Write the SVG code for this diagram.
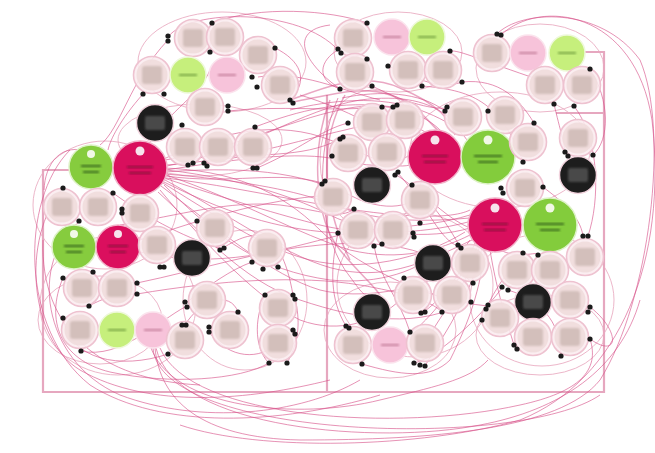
<svg xmlns="http://www.w3.org/2000/svg" xmlns:xlink="http://www.w3.org/1999/xlink" width="655" height="453" viewBox="0 0 655 453">
  <style>
    .frame { fill: none; stroke: #e6a7bf; stroke-width: 2.2; }
    .ring { fill: none; stroke: #e9a9c0; stroke-width: 1; opacity: 0.85; }
    .c { fill: none; stroke: #d64f88; stroke-width: 1; opacity: 0.62; }
    .ct { fill: none; stroke: #d64f88; stroke-width: 1.5; opacity: 0.5; }
    .d { fill: #1b1b1b; }
  </style>
  <defs>
    <filter id="soft" x="-20%" y="-20%" width="140%" height="140%">
      <feGaussianBlur stdDeviation="0.9"/>
    </filter>
    <!-- pale grey-pink node with a blurred text block -->
    <symbol id="pale" overflow="visible">
      <circle r="18.5" fill="#fbecef" fill-opacity="0.88" stroke="#eec2d0" stroke-width="1.6"/>
      <circle r="15.5" fill="#f0dcdc" fill-opacity="0.9"/>
      <rect x="-10" y="-9" width="20" height="18" rx="3" fill="#d3bfbb" filter="url(#soft)"/>
    </symbol>
    <symbol id="black" overflow="visible">
      <circle r="18.5" fill="#1d1d1d" stroke="#f2d4de" stroke-width="1.5"/>
      <rect x="-10" y="-7" width="20" height="14" rx="2" fill="#4a4a4a" filter="url(#soft)"/>
    </symbol>
    <symbol id="lgreen" overflow="visible">
      <circle r="18" fill="#c6ef7c" stroke="#eef8da" stroke-width="1.5"/>
      <rect x="-9" y="-1" width="18" height="2" fill="#7aa845" filter="url(#soft)"/>
    </symbol>
    <symbol id="lpink" overflow="visible">
      <circle r="18" fill="#f7c3da" stroke="#fbe3ed" stroke-width="1.5"/>
      <rect x="-9" y="-1" width="18" height="2" fill="#c7829f" filter="url(#soft)"/>
    </symbol>
    <symbol id="magL" overflow="visible">
      <circle r="27" fill="#d90f5d" stroke="#f2b2c9" stroke-width="1.5"/>
      <circle cy="-17" r="4.5" fill="#f6e4ec"/>
      <rect x="-13" y="-2" width="26" height="2" fill="#8f0a3c" filter="url(#soft)"/>
      <rect x="-11" y="4" width="22" height="2" fill="#8f0a3c" filter="url(#soft)"/>
    </symbol>
    <symbol id="grnL" overflow="visible">
      <circle r="27" fill="#83cc3c" stroke="#def2c8" stroke-width="1.5"/>
      <circle cy="-17" r="4.5" fill="#f1f8e6"/>
      <rect x="-14" y="-2" width="28" height="2" fill="#3e6d1c" filter="url(#soft)"/>
      <rect x="-10" y="4" width="20" height="2" fill="#3e6d1c" filter="url(#soft)"/>
    </symbol>
    <symbol id="magM" overflow="visible">
      <circle r="22" fill="#db0f5e" stroke="#f2b2c9" stroke-width="1.5"/>
      <circle cy="-13" r="4" fill="#f6e4ec"/>
      <rect x="-10" y="-2" width="20" height="2" fill="#8f0a3c" filter="url(#soft)"/>
      <rect x="-8" y="4" width="16" height="2" fill="#8f0a3c" filter="url(#soft)"/>
    </symbol>
    <symbol id="grnM" overflow="visible">
      <circle r="22" fill="#86cc3e" stroke="#def2c8" stroke-width="1.5"/>
      <circle cy="-13" r="4" fill="#f1f8e6"/>
      <rect x="-10" y="-2" width="20" height="2" fill="#3e6d1c" filter="url(#soft)"/>
      <rect x="-8" y="4" width="16" height="2" fill="#3e6d1c" filter="url(#soft)"/>
    </symbol>
  </defs>

  <rect width="655" height="453" fill="#ffffff"/>

  <!-- area frames -->
  <g id="frames">
    <path class="frame" d="M70,170 H43 V392 H327 V95"/>
    <path class="frame" d="M327,392 H604 V52 H585"/>
    <path class="frame" d="M556,113 H604"/>
  </g>

  <!-- cluster outlines -->
  <g id="clusters">
    <ellipse class="ring" cx="222" cy="62" rx="84" ry="50"/>
    <ellipse class="ring" cx="200" cy="140" rx="82" ry="36"/>
    <ellipse class="ring" cx="105" cy="205" rx="72" ry="64"/>
    <ellipse class="ring" cx="118" cy="305" rx="78" ry="70"/>
    <ellipse class="ring" cx="245" cy="300" rx="62" ry="70"/>
    <ellipse class="ring" cx="398" cy="52" rx="64" ry="40"/>
    <ellipse class="ring" cx="540" cy="68" rx="64" ry="44"/>
    <ellipse class="ring" cx="372" cy="160" rx="52" ry="70"/>
    <ellipse class="ring" cx="500" cy="150" rx="90" ry="58"/>
    <ellipse class="ring" cx="415" cy="285" rx="78" ry="72"/>
    <ellipse class="ring" cx="390" cy="330" rx="66" ry="48"/>
    <ellipse class="ring" cx="542" cy="300" rx="72" ry="66"/>
    <ellipse class="ring" cx="540" cy="335" rx="64" ry="40"/>
    <ellipse class="ring" cx="100" cy="320" rx="62" ry="44"/>
  </g>

  <!-- connectors -->
  <g id="connectors">
    <!-- bundle leaving the large magenta node on the left -->
    <path class="c" d="M165,160 C230,150 290,120 340,110 C380,100 420,110 440,130"/>
    <path class="c" d="M166,165 C240,160 300,140 345,130 C390,118 415,125 425,132"/>
    <path class="c" d="M167,170 C250,180 300,200 330,215 C370,235 430,240 470,228"/>
    <path class="c" d="M166,175 C240,200 300,235 350,250 C400,262 440,250 470,235"/>
    <path class="c" d="M165,180 C230,215 290,260 340,270 C390,280 430,260 472,240"/>
    <path class="c" d="M164,185 C220,240 260,270 330,280 C380,285 420,270 440,250"/>
    <path class="c" d="M160,190 C210,250 260,300 300,320 C340,335 380,320 400,300"/>
    <path class="c" d="M162,160 C220,130 280,120 330,140 C370,155 390,170 410,165"/>
    <path class="c" d="M165,172 C260,165 310,175 360,200 C400,215 420,200 430,185"/>
    <path class="c" d="M166,178 C260,190 330,210 400,215 C440,218 460,215 470,210"/>
    <path class="c" d="M158,192 C200,230 240,280 300,300 C360,320 420,330 470,300"/>
    <path class="c" d="M163,168 C230,170 280,190 320,230 C350,260 420,300 488,306"/>
    <path class="c" d="M166,176 C230,185 280,170 322,183"/>
    <path class="c" d="M164,182 C240,220 290,230 338,233"/>
    <path class="c" d="M166,170 C230,160 300,150 340,160 C380,170 400,165 415,150"/>
    <path class="c" d="M165,174 C240,180 290,190 320,200 C360,215 390,225 470,218"/>
    <path class="c" d="M164,178 C230,200 280,215 320,225 C360,235 420,235 468,222"/>
    <path class="c" d="M163,183 C230,225 270,250 310,260 C360,272 420,260 465,232"/>
    <path class="c" d="M161,186 C220,230 270,275 320,290 C360,300 420,290 450,270"/>
    <path class="c" d="M167,166 C250,150 300,110 360,100 C400,95 430,100 452,120"/>
    <path class="c" d="M140,240 C200,220 260,200 330,195"/>
    <path class="c" d="M140,252 C220,270 280,250 340,235 C380,225 420,230 470,215"/>
    <path class="c" d="M137,283 C200,270 260,250 320,245 C380,240 430,245 473,283"/>
    <path class="c" d="M137,294 C220,280 300,275 360,285 C400,292 430,300 442,312"/>
    <path class="c" d="M150,142 C170,110 200,95 210,70"/>
    <path class="c" d="M113,193 C150,220 190,240 223,249"/>
    <path class="c" d="M120,225 C180,215 230,200 280,205 C320,210 340,220 354,209"/>
    <!-- loops across the top between the two halves -->
    <path class="ct" d="M293,102 C330,95 360,85 390,95 C420,105 430,125 440,132"/>
    <path class="ct" d="M290,100 C320,90 360,70 400,88 C440,105 450,120 455,135"/>
    <path class="c" d="M290,110 C330,100 380,95 420,110 C460,125 470,140 470,150"/>
    <path class="c" d="M258,77 C300,70 340,90 380,100"/>
    <path class="c" d="M300,95 C350,110 380,130 400,140"/>
    <path class="ct" d="M330,100 C310,150 315,220 340,250 C360,275 380,290 382,300"/>
    <path class="ct" d="M345,95 C320,140 320,200 350,260"/>
    <path class="c" d="M338,98 C315,150 318,230 345,270 C360,290 365,300 372,294"/>
    <path class="c" d="M342,98 C380,90 420,92 445,111"/>
    <path class="c" d="M255,127 C300,110 340,100 393,107"/>
    <path class="c" d="M228,111 C280,105 330,112 382,107"/>
    <path class="c" d="M204,163 C260,150 300,160 340,139"/>
    <path class="c" d="M257,168 C300,150 320,130 348,123"/>
    <!-- links around the right half -->
    <path class="c" d="M462,82 C500,78 520,100 534,123"/>
    <path class="c" d="M422,86 C470,90 500,100 523,162"/>
    <path class="c" d="M554,104 C560,130 565,145 565,153"/>
    <path class="c" d="M590,69 C610,100 610,140 593,155"/>
    <path class="c" d="M574,106 C600,140 600,200 588,236"/>
    <path class="c" d="M480,245 C470,280 450,300 425,343"/>
    <path class="c" d="M485,248 C480,290 470,320 450,360 C430,380 400,375 362,364"/>
    <path class="c" d="M490,250 C495,280 500,300 514,345"/>
    <path class="c" d="M470,240 C450,270 420,280 404,278"/>
    <path class="c" d="M475,243 C460,280 430,310 421,313"/>
    <path class="c" d="M478,246 C455,290 420,330 410,332"/>
    <path class="c" d="M482,248 C470,300 440,340 425,366"/>
    <path class="c" d="M500,250 C520,260 540,250 538,255"/>
    <path class="c" d="M508,290 C540,300 560,320 561,356"/>
    <path class="c" d="M502,288 C470,330 430,360 414,363"/>
    <path class="c" d="M523,253 C500,280 490,300 486,309"/>
    <path class="c" d="M412,185 C430,200 450,220 470,228"/>
    <path class="c" d="M395,174 C420,190 440,210 460,247"/>
    <path class="c" d="M398,173 C430,210 440,240 458,246"/>
    <path class="c" d="M543,187 C560,200 580,215 583,236"/>
    <path class="c" d="M590,307 C620,330 620,360 590,339"/>
    <path class="c" d="M346,326 C330,300 330,270 338,233"/>
    <path class="c" d="M410,332 C400,300 380,280 374,246"/>
    <!-- arcs on the left -->
    <path class="c" d="M168,40 C130,80 120,130 100,145"/>
    <path class="c" d="M168,37 C190,8 300,8 338,50"/>
    <path class="c" d="M212,23 C260,5 330,10 367,23"/>
    <path class="c" d="M143,94 C120,120 110,140 108,150"/>
    <path class="c" d="M275,48 C300,60 310,80 290,100"/>
    <path class="c" d="M63,188 C20,240 30,340 80,370 C150,410 250,400 330,380"/>
    <path class="c" d="M43,240 C40,330 100,380 200,385"/>
    <path class="c" d="M79,222 C30,260 40,360 120,395 C200,425 300,415 360,380"/>
    <path class="c" d="M70,150 C20,200 20,330 90,385 C160,430 280,425 380,395"/>
    <path class="c" d="M63,278 C45,320 60,360 110,372 C170,385 240,380 269,363"/>
    <path class="c" d="M63,318 C70,360 120,370 168,354"/>
    <path class="c" d="M81,351 C120,360 160,320 185,307"/>
    <path class="c" d="M89,306 C100,300 110,295 137,294"/>
    <path class="c" d="M92,153 C60,140 45,165 44,190"/>
    <path class="c" d="M265,295 C250,330 260,355 269,363"/>
    <path class="c" d="M287,363 C300,340 300,320 295,298"/>
    <path class="c" d="M209,332 C230,360 260,360 278,343"/>
    <path class="c" d="M185,325 C200,300 230,290 238,312"/>
    <path class="c" d="M252,262 C230,270 210,285 187,302"/>
    <path class="c" d="M220,250 C250,230 280,220 293,295"/>
    <!-- long loops around the outside -->
    <path class="c" d="M497,34 C520,10 600,5 640,60 C670,130 650,300 600,380 C560,430 430,440 300,440 C200,438 160,400 155,348"/>
    <path class="c" d="M501,35 C540,-2 635,10 652,120 C668,260 620,380 520,420 C420,448 260,452 180,425"/>
    <path class="c" d="M153,348 C160,440 520,450 600,395"/>
    <path class="c" d="M150,345 C170,410 300,420 380,400 C430,388 470,380 488,360"/>
    <path class="c" d="M160,348 C190,420 400,432 520,405 C580,392 600,370 590,339"/>
    <path class="c" d="M156,348 C175,430 380,445 480,425 C560,410 620,370 640,300"/>
    <path class="c" d="M340,89 C300,60 290,30 330,25"/>
    <path class="c" d="M338,50 C320,60 315,80 340,89"/>
    <path class="c" d="M372,86 C400,100 430,110 447,108"/>
    <path class="c" d="M388,66 C420,80 440,90 462,82"/>
    <path class="c" d="M540,80 C480,60 460,50 450,51"/>
  </g>

  <!-- nodes -->
  <g id="n01" transform="translate(193,38)"><use href="#pale"/></g>
  <g id="n02" transform="translate(225,37)"><use href="#pale"/></g>
  <g id="n03" transform="translate(258,55)"><use href="#pale"/></g>
  <g id="n04" transform="translate(280,85)"><use href="#pale"/></g>
  <g id="n05" transform="translate(152,75)"><use href="#pale"/></g>
  <g id="n06" transform="translate(188,75)"><use href="#lgreen"/></g>
  <g id="n07" transform="translate(227,75)"><use href="#lpink"/></g>
  <g id="n08" transform="translate(205,107)"><use href="#pale"/></g>
  <g id="n09" transform="translate(155,123)"><use href="#black"/></g>
  <g id="n10" transform="translate(185,147)"><use href="#pale"/></g>
  <g id="n11" transform="translate(218,147)"><use href="#pale"/></g>
  <g id="n12" transform="translate(253,147)"><use href="#pale"/></g>
  <g id="n13" transform="translate(91,167)"><use href="#grnM"/></g>
  <g id="n14" transform="translate(140,168)"><use href="#magL"/></g>
  <g id="n15" transform="translate(62,207)"><use href="#pale"/></g>
  <g id="n16" transform="translate(98,207)"><use href="#pale"/></g>
  <g id="n17" transform="translate(140,213)"><use href="#pale"/></g>
  <g id="n18" transform="translate(215,228)"><use href="#pale"/></g>
  <g id="n19" transform="translate(74,247)"><use href="#grnM"/></g>
  <g id="n20" transform="translate(118,247)"><use href="#magM"/></g>
  <g id="n21" transform="translate(157,245)"><use href="#pale"/></g>
  <g id="n22" transform="translate(192,258)"><use href="#black"/></g>
  <g id="n23" transform="translate(267,248)"><use href="#pale"/></g>
  <g id="n24" transform="translate(82,288)"><use href="#pale"/></g>
  <g id="n25" transform="translate(117,288)"><use href="#pale"/></g>
  <g id="n26" transform="translate(207,300)"><use href="#pale"/></g>
  <g id="n27" transform="translate(278,308)"><use href="#pale"/></g>
  <g id="n28" transform="translate(80,330)"><use href="#pale"/></g>
  <g id="n29" transform="translate(117,330)"><use href="#lgreen"/></g>
  <g id="n30" transform="translate(153,330)"><use href="#lpink"/></g>
  <g id="n31" transform="translate(185,340)"><use href="#pale"/></g>
  <g id="n32" transform="translate(230,330)"><use href="#pale"/></g>
  <g id="n33" transform="translate(278,343)"><use href="#pale"/></g>

  <g id="n34" transform="translate(353,38)"><use href="#pale"/></g>
  <g id="n35" transform="translate(392,37)"><use href="#lpink"/></g>
  <g id="n36" transform="translate(427,37)"><use href="#lgreen"/></g>
  <g id="n37" transform="translate(355,72)"><use href="#pale"/></g>
  <g id="n38" transform="translate(408,70)"><use href="#pale"/></g>
  <g id="n39" transform="translate(443,70)"><use href="#pale"/></g>
  <g id="n40" transform="translate(492,53)"><use href="#pale"/></g>
  <g id="n41" transform="translate(528,53)"><use href="#lpink"/></g>
  <g id="n42" transform="translate(567,53)"><use href="#lgreen"/></g>
  <g id="n43" transform="translate(545,85)"><use href="#pale"/></g>
  <g id="n44" transform="translate(582,85)"><use href="#pale"/></g>
  <g id="n45" transform="translate(372,122)"><use href="#pale"/></g>
  <g id="n46" transform="translate(405,120)"><use href="#pale"/></g>
  <g id="n47" transform="translate(463,117)"><use href="#pale"/></g>
  <g id="n48" transform="translate(505,115)"><use href="#pale"/></g>
  <g id="n49" transform="translate(578,138)"><use href="#pale"/></g>
  <g id="n50" transform="translate(348,153)"><use href="#pale"/></g>
  <g id="n51" transform="translate(387,152)"><use href="#pale"/></g>
  <g id="n52" transform="translate(435,157)"><use href="#magL"/></g>
  <g id="n53" transform="translate(488,157)"><use href="#grnL"/></g>
  <g id="n54" transform="translate(528,142)"><use href="#pale"/></g>
  <g id="n55" transform="translate(578,175)"><use href="#black"/></g>
  <g id="n56" transform="translate(372,185)"><use href="#black"/></g>
  <g id="n57" transform="translate(333,197)"><use href="#pale"/></g>
  <g id="n58" transform="translate(420,200)"><use href="#pale"/></g>
  <g id="n59" transform="translate(525,188)"><use href="#pale"/></g>
  <g id="n60" transform="translate(495,225)"><use href="#magL"/></g>
  <g id="n61" transform="translate(550,225)"><use href="#grnL"/></g>
  <g id="n62" transform="translate(358,230)"><use href="#pale"/></g>
  <g id="n63" transform="translate(393,230)"><use href="#pale"/></g>
  <g id="n64" transform="translate(433,263)"><use href="#black"/></g>
  <g id="n65" transform="translate(470,263)"><use href="#pale"/></g>
  <g id="n66" transform="translate(585,257)"><use href="#pale"/></g>
  <g id="n67" transform="translate(517,270)"><use href="#pale"/></g>
  <g id="n68" transform="translate(550,270)"><use href="#pale"/></g>
  <g id="n69" transform="translate(413,295)"><use href="#pale"/></g>
  <g id="n70" transform="translate(452,295)"><use href="#pale"/></g>
  <g id="n71" transform="translate(533,302)"><use href="#black"/></g>
  <g id="n72" transform="translate(570,300)"><use href="#pale"/></g>
  <g id="n73" transform="translate(372,312)"><use href="#black"/></g>
  <g id="n74" transform="translate(500,318)"><use href="#pale"/></g>
  <g id="n75" transform="translate(353,345)"><use href="#pale"/></g>
  <g id="n76" transform="translate(390,345)"><use href="#lpink"/></g>
  <g id="n77" transform="translate(425,343)"><use href="#pale"/></g>
  <g id="n78" transform="translate(533,337)"><use href="#pale"/></g>
  <g id="n79" transform="translate(570,337)"><use href="#pale"/></g>

  <!-- connection points -->
  <g id="ports">
    <circle class="d" cx="212" cy="23" r="2.6"/>
    <circle class="d" cx="168" cy="36" r="2.6"/>
    <circle class="d" cx="168" cy="41" r="2.6"/>
    <circle class="d" cx="210" cy="52" r="2.6"/>
    <circle class="d" cx="275" cy="48" r="2.6"/>
    <circle class="d" cx="252" cy="77" r="2.6"/>
    <circle class="d" cx="257" cy="87" r="2.6"/>
    <circle class="d" cx="143" cy="94" r="2.6"/>
    <circle class="d" cx="164" cy="94" r="2.6"/>
    <circle class="d" cx="228" cy="106" r="2.6"/>
    <circle class="d" cx="228" cy="111" r="2.6"/>
    <circle class="d" cx="290" cy="100" r="2.6"/>
    <circle class="d" cx="293" cy="103" r="2.6"/>
    <circle class="d" cx="182" cy="125" r="2.6"/>
    <circle class="d" cx="255" cy="127" r="2.6"/>
    <circle class="d" cx="188" cy="165" r="2.6"/>
    <circle class="d" cx="193" cy="163" r="2.6"/>
    <circle class="d" cx="204" cy="163" r="2.6"/>
    <circle class="d" cx="207" cy="166" r="2.6"/>
    <circle class="d" cx="253" cy="168" r="2.6"/>
    <circle class="d" cx="257" cy="168" r="2.6"/>
    <circle class="d" cx="322" cy="184" r="2.6"/>
    <circle class="d" cx="325" cy="181" r="2.6"/>
    <circle class="d" cx="63" cy="188" r="2.6"/>
    <circle class="d" cx="113" cy="193" r="2.6"/>
    <circle class="d" cx="122" cy="209" r="2.6"/>
    <circle class="d" cx="122" cy="213" r="2.6"/>
    <circle class="d" cx="79" cy="221" r="2.6"/>
    <circle class="d" cx="197" cy="221" r="2.6"/>
    <circle class="d" cx="93" cy="272" r="2.6"/>
    <circle class="d" cx="63" cy="278" r="2.6"/>
    <circle class="d" cx="137" cy="283" r="2.6"/>
    <circle class="d" cx="137" cy="294" r="2.6"/>
    <circle class="d" cx="89" cy="306" r="2.6"/>
    <circle class="d" cx="160" cy="267" r="2.6"/>
    <circle class="d" cx="164" cy="267" r="2.6"/>
    <circle class="d" cx="220" cy="250" r="2.6"/>
    <circle class="d" cx="224" cy="248" r="2.6"/>
    <circle class="d" cx="252" cy="262" r="2.6"/>
    <circle class="d" cx="263" cy="269" r="2.6"/>
    <circle class="d" cx="278" cy="267" r="2.6"/>
    <circle class="d" cx="185" cy="302" r="2.6"/>
    <circle class="d" cx="187" cy="307" r="2.6"/>
    <circle class="d" cx="238" cy="312" r="2.6"/>
    <circle class="d" cx="63" cy="318" r="2.6"/>
    <circle class="d" cx="182" cy="325" r="2.6"/>
    <circle class="d" cx="186" cy="325" r="2.6"/>
    <circle class="d" cx="209" cy="327" r="2.6"/>
    <circle class="d" cx="209" cy="332" r="2.6"/>
    <circle class="d" cx="265" cy="295" r="2.6"/>
    <circle class="d" cx="293" cy="295" r="2.6"/>
    <circle class="d" cx="295" cy="299" r="2.6"/>
    <circle class="d" cx="293" cy="330" r="2.6"/>
    <circle class="d" cx="295" cy="334" r="2.6"/>
    <circle class="d" cx="168" cy="354" r="2.6"/>
    <circle class="d" cx="81" cy="351" r="2.6"/>
    <circle class="d" cx="269" cy="363" r="2.6"/>
    <circle class="d" cx="287" cy="363" r="2.6"/>

    <circle class="d" cx="367" cy="23" r="2.6"/>
    <circle class="d" cx="338" cy="49" r="2.6"/>
    <circle class="d" cx="341" cy="53" r="2.6"/>
    <circle class="d" cx="367" cy="59" r="2.6"/>
    <circle class="d" cx="388" cy="66" r="2.6"/>
    <circle class="d" cx="450" cy="51" r="2.6"/>
    <circle class="d" cx="340" cy="89" r="2.6"/>
    <circle class="d" cx="372" cy="86" r="2.6"/>
    <circle class="d" cx="422" cy="86" r="2.6"/>
    <circle class="d" cx="462" cy="82" r="2.6"/>
    <circle class="d" cx="497" cy="34" r="2.6"/>
    <circle class="d" cx="501" cy="35" r="2.6"/>
    <circle class="d" cx="590" cy="69" r="2.6"/>
    <circle class="d" cx="554" cy="104" r="2.6"/>
    <circle class="d" cx="574" cy="106" r="2.6"/>
    <circle class="d" cx="393" cy="107" r="2.6"/>
    <circle class="d" cx="397" cy="105" r="2.6"/>
    <circle class="d" cx="382" cy="107" r="2.6"/>
    <circle class="d" cx="445" cy="111" r="2.6"/>
    <circle class="d" cx="447" cy="107" r="2.6"/>
    <circle class="d" cx="488" cy="111" r="2.6"/>
    <circle class="d" cx="534" cy="123" r="2.6"/>
    <circle class="d" cx="348" cy="123" r="2.6"/>
    <circle class="d" cx="340" cy="139" r="2.6"/>
    <circle class="d" cx="343" cy="137" r="2.6"/>
    <circle class="d" cx="332" cy="156" r="2.6"/>
    <circle class="d" cx="523" cy="162" r="2.6"/>
    <circle class="d" cx="565" cy="152" r="2.6"/>
    <circle class="d" cx="568" cy="156" r="2.6"/>
    <circle class="d" cx="593" cy="155" r="2.6"/>
    <circle class="d" cx="395" cy="175" r="2.6"/>
    <circle class="d" cx="398" cy="172" r="2.6"/>
    <circle class="d" cx="412" cy="185" r="2.6"/>
    <circle class="d" cx="501" cy="188" r="2.6"/>
    <circle class="d" cx="503" cy="193" r="2.6"/>
    <circle class="d" cx="543" cy="187" r="2.6"/>
    <circle class="d" cx="354" cy="209" r="2.6"/>
    <circle class="d" cx="420" cy="223" r="2.6"/>
    <circle class="d" cx="338" cy="233" r="2.6"/>
    <circle class="d" cx="374" cy="246" r="2.6"/>
    <circle class="d" cx="382" cy="244" r="2.6"/>
    <circle class="d" cx="413" cy="233" r="2.6"/>
    <circle class="d" cx="414" cy="237" r="2.6"/>
    <circle class="d" cx="458" cy="245" r="2.6"/>
    <circle class="d" cx="461" cy="248" r="2.6"/>
    <circle class="d" cx="523" cy="253" r="2.6"/>
    <circle class="d" cx="538" cy="255" r="2.6"/>
    <circle class="d" cx="583" cy="236" r="2.6"/>
    <circle class="d" cx="588" cy="236" r="2.6"/>
    <circle class="d" cx="404" cy="278" r="2.6"/>
    <circle class="d" cx="473" cy="283" r="2.6"/>
    <circle class="d" cx="471" cy="302" r="2.6"/>
    <circle class="d" cx="442" cy="312" r="2.6"/>
    <circle class="d" cx="421" cy="313" r="2.6"/>
    <circle class="d" cx="425" cy="312" r="2.6"/>
    <circle class="d" cx="502" cy="287" r="2.6"/>
    <circle class="d" cx="508" cy="290" r="2.6"/>
    <circle class="d" cx="488" cy="305" r="2.6"/>
    <circle class="d" cx="486" cy="309" r="2.6"/>
    <circle class="d" cx="482" cy="320" r="2.6"/>
    <circle class="d" cx="590" cy="307" r="2.6"/>
    <circle class="d" cx="588" cy="312" r="2.6"/>
    <circle class="d" cx="346" cy="326" r="2.6"/>
    <circle class="d" cx="349" cy="328" r="2.6"/>
    <circle class="d" cx="410" cy="332" r="2.6"/>
    <circle class="d" cx="514" cy="345" r="2.6"/>
    <circle class="d" cx="517" cy="349" r="2.6"/>
    <circle class="d" cx="590" cy="339" r="2.6"/>
    <circle class="d" cx="561" cy="356" r="2.6"/>
    <circle class="d" cx="362" cy="364" r="2.6"/>
    <circle class="d" cx="414" cy="363" r="2.6"/>
    <circle class="d" cx="420" cy="365" r="2.6"/>
    <circle class="d" cx="425" cy="366" r="2.6"/>
  </g>
</svg>
